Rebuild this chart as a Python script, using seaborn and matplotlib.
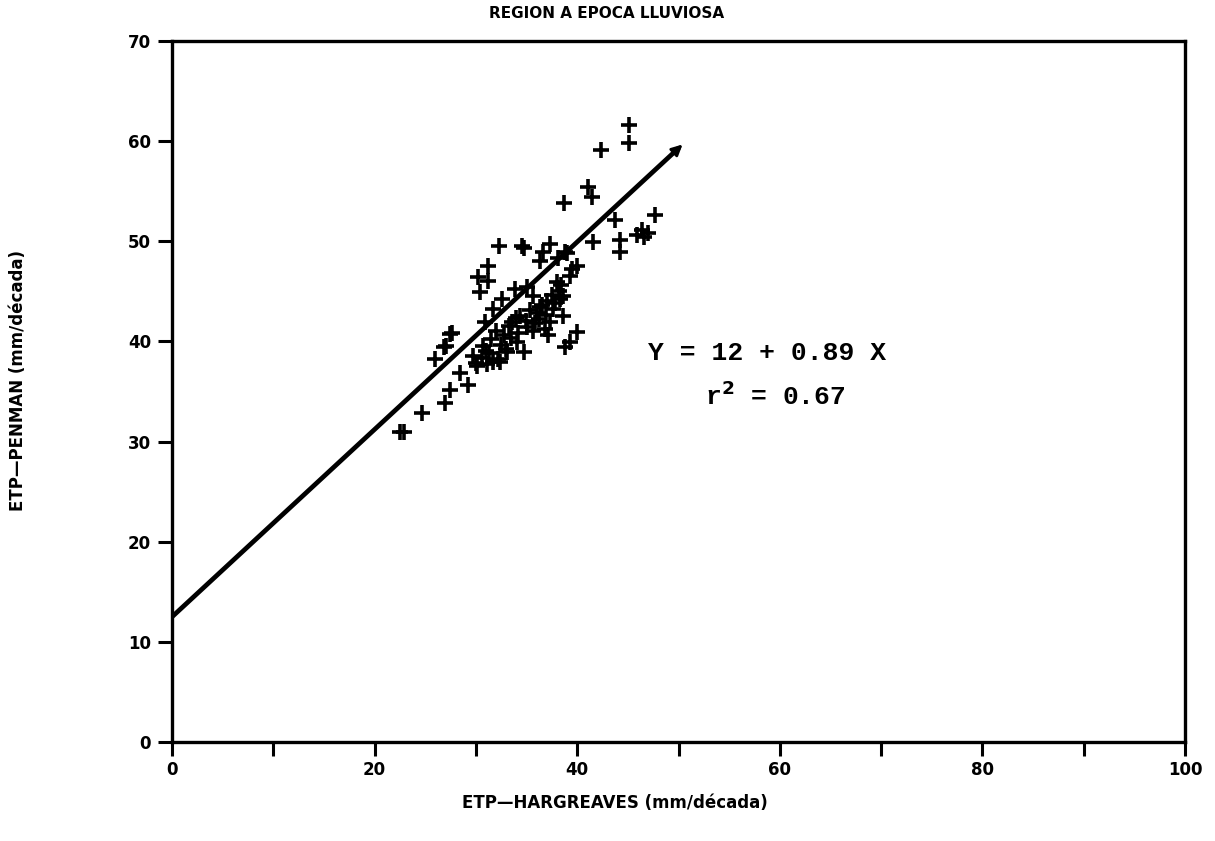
import matplotlib
matplotlib.use("Agg")
import matplotlib.pyplot as plt
import seaborn as sns
import pandas as pd
from matplotlib.ticker import MultipleLocator

# ---- data ----
etp_hargreaves = [
    22.5, 22.9, 24.7, 26.9, 27.4, 29.2, 28.4, 30.1, 31.1, 32.4,
    26.0, 26.8, 27.4, 27.6, 27.0, 29.7, 30.7, 31.7, 32.2, 33.1,
    34.1, 34.7, 35.6, 37.3, 38.6, 38.8, 39.3, 40.0, 36.8, 37.1,
    30.9, 31.7, 32.6, 33.6, 34.4, 36.3, 35.6, 38.3, 33.9, 35.0,
    38.0, 39.3, 30.4, 31.2, 30.2, 31.2, 36.3, 36.6, 37.3, 38.8,
    38.1, 32.3, 34.5, 34.7, 38.6, 40.0, 39.0, 41.6, 44.2, 44.2,
    43.7, 46.4, 45.9, 47.0, 46.6, 47.7, 41.1, 41.5, 42.3, 45.1,
    45.1, 38.7, 31.5, 32.0, 32.8, 33.3, 34.0, 34.9, 35.3, 36.0,
    36.5, 37.0, 37.6, 38.2, 31.3, 32.5, 33.5, 35.8, 36.9, 37.8,
    30.6, 31.0, 33.0, 34.2, 35.0, 36.2, 37.5, 38.4, 39.5, 30.0,
]
etp_penman = [
    31.0, 31.0, 32.9, 33.9, 35.2, 35.7, 36.9, 37.5, 37.7, 37.9,
    38.2, 39.4, 40.7, 40.8, 39.5, 38.5, 39.5, 37.9, 38.2, 38.9,
    39.9, 38.9, 41.0, 41.9, 42.5, 39.4, 39.9, 40.9, 41.2, 40.6,
    41.9, 43.2, 44.2, 41.9, 42.5, 43.4, 44.5, 44.2, 45.2, 45.4,
    45.9, 46.5, 44.9, 46.0, 46.4, 47.5, 48.0, 48.9, 49.7, 48.9,
    48.3, 49.5, 49.5, 49.3, 44.5, 47.5, 48.8, 49.9, 50.1, 48.9,
    52.1, 51.1, 50.6, 50.8, 50.4, 52.6, 55.4, 54.4, 59.1, 61.6,
    59.8, 53.8, 40.2, 41.0, 40.6, 41.5, 42.3, 42.0, 43.1, 42.8,
    43.6, 44.0, 43.2, 45.0, 38.8, 39.6, 40.3, 41.8, 42.6, 43.8,
    38.3, 39.0, 39.2, 40.8, 41.4, 42.2, 44.6, 45.6, 47.2, 37.8,
]
fit_x = [0.0, 50.0]
fit_y = [12.5, 59.3]

x_ticks = [0, 20, 40, 60, 80, 100]
y_ticks = [0, 10, 20, 30, 40, 50, 60, 70]

title = "REGION A EPOCA LLUVIOSA"
xlabel = "ETP\u2014HARGREAVES (mm/década)"
ylabel = "ETP\u2014PENMAN (mm/década)"
eq_line1 = "Y = 12 + 0.89 X"
eq_line2 = r"r$^{\mathbf{2}}$ = 0.67"

df = pd.DataFrame({"x": etp_hargreaves, "y": etp_penman})
fit = pd.DataFrame({"x": fit_x, "y": fit_y})

sns.set_theme(style="white")
plt.rcParams["font.family"] = ["DejaVu Sans"]
plt.rcParams["text.color"] = "black"
plt.rcParams["axes.labelcolor"] = "black"
plt.rcParams["xtick.color"] = "black"
plt.rcParams["ytick.color"] = "black"

fig = plt.figure(figsize=(12.15, 8.41), dpi=100)
ax = fig.add_axes([0.1416, 0.1177, 0.8337, 0.8335])

sns.lineplot(data=fit, x="x", y="y", ax=ax, color="black", linewidth=3.4)
ax.annotate("", xy=(fit_x[1] + 0.6, fit_y[1] + 0.56), xytext=(fit_x[1] - 1, fit_y[1] - 0.94),
            arrowprops=dict(arrowstyle="-|>", color="black", lw=2, mutation_scale=16))
sns.scatterplot(data=df, x="x", y="y", ax=ax, marker="+", s=120,
                color="black", linewidth=2.6)

ax.set_xlim(0, 100)
ax.set_ylim(0, 70)
ax.set_xticks(x_ticks)
ax.set_yticks(y_ticks)
ax.xaxis.set_minor_locator(MultipleLocator(10))
ax.tick_params(axis="both", which="both", direction="out", length=10, width=2.2,
               color="black", labelcolor="black", labelsize=12,
               bottom=True, left=True, top=False, right=False)
ax.tick_params(axis="x", pad=4)
ax.tick_params(axis="y", pad=5)
for lbl in ax.get_xticklabels() + ax.get_yticklabels():
    lbl.set_fontweight("bold")
for sp in ax.spines.values():
    sp.set_visible(True)
    sp.set_color("black")
    sp.set_linewidth(2.4)

ax.set_xlabel(xlabel, fontsize=12, fontweight="bold", color="black")
ax.set_ylabel(ylabel, fontsize=12, fontweight="bold", color="black")
ax.xaxis.set_label_coords((615 - 172) / 1013, -(803 - 742) / 701)
ax.yaxis.set_label_coords(-(172 - 18) / 1013, (742 - 380) / 701)
ax.xaxis.label.set_va("center")
ax.yaxis.label.set_va("center")
fig.text(607 / 1215, 1 - 13 / 841, title, ha="center", va="center",
         fontsize=11, fontweight="bold", color="black")

ax.text(47.0, 38.8, eq_line1, fontsize=19, fontweight="bold",
        family="Liberation Mono", va="center", ha="left", color="black")
ax.text(52.6, 34.6, eq_line2, fontsize=19, fontweight="bold",
        family="Liberation Mono", va="center", ha="left", color="black")

fig.savefig("out.png", dpi=100, facecolor="white")
